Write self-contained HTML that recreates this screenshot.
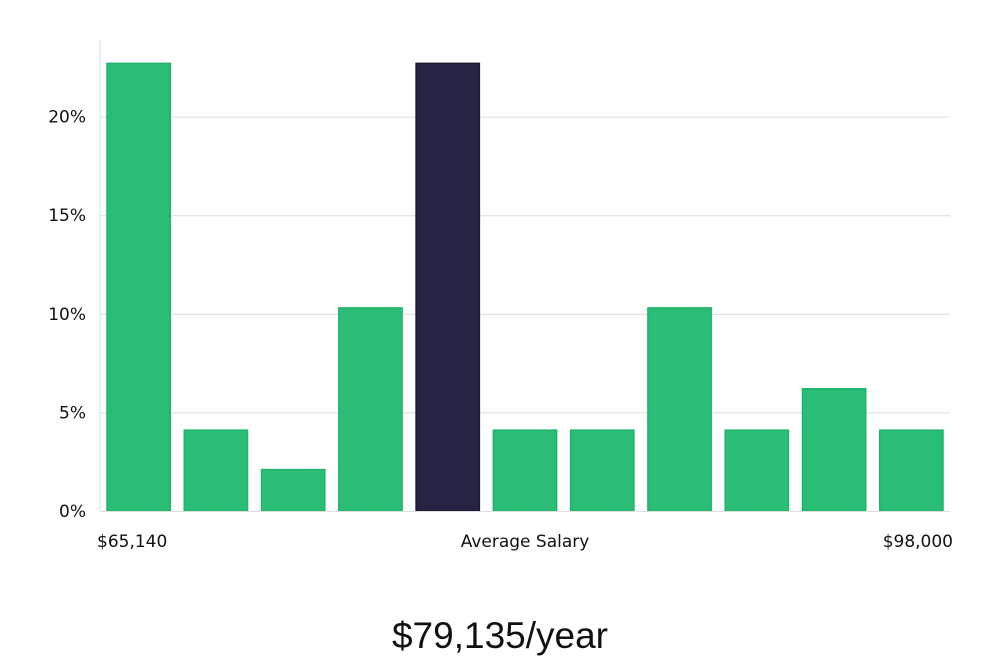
<!DOCTYPE html>
<html><head><meta charset="utf-8"><style>
html,body{margin:0;padding:0;background:#fff;width:1000px;height:660px;overflow:hidden}
svg text{font-family:"DejaVu Sans","Liberation Sans",sans-serif}
</style></head><body>
<svg id="chart" width="1000" height="660" viewBox="0 0 1000 660" xmlns="http://www.w3.org/2000/svg">
<g id="grid"></g>
<g id="bars"></g>
<g id="yticks"></g>
<line x1="100" y1="40" x2="100" y2="511" stroke="#ddd" stroke-width="1"/>
<line x1="100" y1="511.5" x2="950" y2="511.5" stroke="#ddd" stroke-width="1"/>
<text x="97" y="547" font-size="17" fill="#111">$65,140</text>
<text x="525" y="547" font-size="17" fill="#111" text-anchor="middle">Average Salary</text>
<text x="953" y="547" font-size="17" fill="#111" text-anchor="end">$98,000</text>
<text x="500" y="648" font-size="37" fill="#111" text-anchor="middle" style="font-family:'Liberation Sans',sans-serif;font-weight:300">$79,135/year</text>
</svg>
<script>
const values = [22.7, 4.1, 2.1, 10.3, 22.7, 4.1, 4.1, 10.3, 4.1, 6.2, 4.1];
const highlightIndex = [4];
const yTicks = [0, 5, 10, 15, 20];
const yTickLabels = ["0%", "5%", "10%", "15%", "20%"];

const NS = "http://www.w3.org/2000/svg";
const x0 = 100, x1 = 950, yBase = 511, pxPerPct = 19.72;
const band = (x1 - x0) / values.length, pad = 7;
function y(v){ return yBase - v * pxPerPct; }
function xb(i){ return x0 + i * band + pad; }

const grid = document.getElementById('grid');
const yt = document.getElementById('yticks');
yTicks.forEach((t, i) => {
  if (t > 0) {
    const l = document.createElementNS(NS, 'line');
    
    
    l.setAttribute('x1', x0); l.setAttribute('x2', x1);
    l.setAttribute('y1', y(t) + 0.5); l.setAttribute('y2', y(t) + 0.5);
    l.setAttribute('stroke', '#dcdcdc');
    grid.appendChild(l);
  }
  const tx = document.createElementNS(NS, 'text');
  
  
  tx.setAttribute('x', 86); tx.setAttribute('y', y(t) + 6);
  tx.setAttribute('text-anchor', 'end');
  tx.setAttribute('font-size', '17');
  tx.setAttribute('fill', '#111');
  tx.textContent = yTickLabels[i];
  yt.appendChild(tx);
});

const bars = document.getElementById('bars');
values.forEach((v, i) => {
  const r = document.createElementNS(NS, 'rect');
  const hi = highlightIndex.includes(i);
  
  
  r.setAttribute('x', xb(i)); r.setAttribute('y', y(v));
  r.setAttribute('width', band - 2 * pad); r.setAttribute('height', yBase - y(v));
  r.setAttribute('fill', hi ? '#282446' : '#2abd76');
  r.setAttribute('stroke', hi ? '#1a1733' : '#22b36b');
  r.setAttribute('stroke-width', '1.5');
  bars.appendChild(r);
});
</script>
</body></html>
